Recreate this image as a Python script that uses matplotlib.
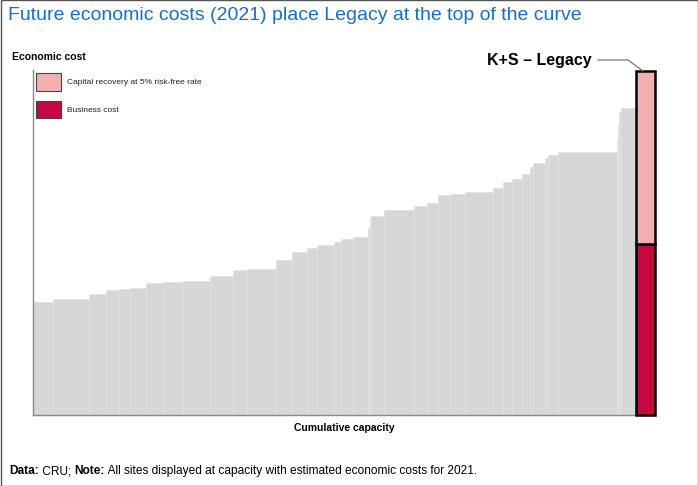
import matplotlib
matplotlib.use("Agg")
import matplotlib.pyplot as plt
from matplotlib.patches import Rectangle
import numpy as np

plt.rcParams['font.family'] = ['Liberation Sans', 'DejaVu Sans']

# ---- data (arbitrary units) ----
capacity = [19.7, 36.6, 16.7, 13.3, 10.7, 16.0, 17.3, 20.0, 26.7, 23.3,
            13.2, 29.0, 16.5, 14.7, 10.0, 17.0, 7.1, 12.5, 14.4, 1.8,
            1.5, 13.0, 30.0, 13.3, 11.0, 11.7, 15.0, 28.3, 10.0, 8.4,
            10.6, 7.7, 3.3, 11.7, 3.3, 10.0, 58.4, 1.3, 1.5, 1.2, 15.3]
cost = [113.3, 115.7, 121.0, 124.7, 126.3, 127.0, 132.0, 133.3, 134.0, 139.0,
        145.0, 146.0, 155.0, 162.7, 166.7, 170.0, 172.7, 175.7, 177.7, 187.0,
        197.0, 199.3, 205.0, 209.0, 211.7, 220.0, 221.0, 223.3, 227.3, 232.7,
        235.7, 241.0, 247.7, 252.3, 256.7, 259.7, 262.7, 275.0, 290.0, 303.0,
        306.7]
legacy_capacity = 19.0
legacy_business = 171.0
legacy_capital = 173.0

W, H = 698, 486
fig = plt.figure(figsize=(W / 100, H / 100), dpi=100)

def fx(px):
    return px / W

def fy(py):
    return 1 - py / H

ax = fig.add_axes([fx(33), fy(415), fx(655) - fx(33), fy(70) - fy(415)])

cap = np.array(capacity)
left = np.concatenate([[0], np.cumsum(cap)[:-1]])
ax.bar(left, cost, width=cap, align='edge', color='#D5D6D8',
       edgecolor='#E1E2E4', linewidth=0.5)

lx = cap.sum()
ax.bar([lx], [legacy_business], width=legacy_capacity, align='edge',
       color='#C40A3E', edgecolor='black', linewidth=1.8, clip_on=False, zorder=3)
ax.bar([lx], [legacy_capital], bottom=[legacy_business], width=legacy_capacity,
       align='edge', color='#F2B0B0', edgecolor='black', linewidth=1.8,
       clip_on=False, zorder=3)

ax.set_xlim(0, lx + legacy_capacity)
ax.set_ylim(0, 345)
ax.set_xticks([])
ax.set_yticks([])
for s in ['top', 'right']:
    ax.spines[s].set_visible(False)
for s in ['left', 'bottom']:
    ax.spines[s].set_color('#8A8A8A')
    ax.spines[s].set_linewidth(1.0)

# leader line & label for K+S - Legacy
top = legacy_business + legacy_capital
ax.plot([lx - 38, lx - 8, lx + 7], [top + 11, top + 11, top], color='#777777',
        linewidth=0.9, clip_on=False, zorder=4)
ax.text(lx - 44, top + 11, 'K+S – Legacy', ha='right', va='center',
        fontsize=11.5, fontweight='bold', color='black')

ax.set_xlabel('Cumulative capacity', fontsize=7.5, fontweight='bold', labelpad=6)

# legend (manual)
fig.patches.append(Rectangle((fx(36), fy(91)), fx(61) - fx(36), fy(73) - fy(91),
                             transform=fig.transFigure, facecolor='#F2B0B0',
                             edgecolor='#444444', linewidth=0.8))
fig.patches.append(Rectangle((fx(36), fy(118)), fx(61) - fx(36), fy(101) - fy(118),
                             transform=fig.transFigure, facecolor='#C40A3E',
                             edgecolor='#444444', linewidth=0.8))
fig.text(fx(67), fy(82), 'Capital recovery at 5% risk-free rate', fontsize=6,
         va='center', ha='left', color='#222222')
fig.text(fx(67), fy(110), 'Business cost', fontsize=6, va='center', ha='left',
         color='#222222')

fig.text(fx(12), fy(57), 'Economic cost', fontsize=7.5, fontweight='bold',
         va='center', ha='left')

fig.text(fx(8), fy(15), 'Future economic costs (2021) place Legacy at the top of the curve',
         fontsize=14, color='#1B6FC2', va='center', ha='left')

# footer as chained text pieces
renderer = fig.canvas.get_renderer()
pieces = [('Data:', 'bold'), (' CRU; ', 'normal'), ('Note:', 'bold'),
          (' All sites displayed at capacity with estimated economic costs for 2021.', 'normal')]
xpos = 9.0
for txt, wt in pieces:
    t = fig.text(fx(xpos), fy(474), txt, fontsize=8.6, fontweight=wt,
                 va='baseline', ha='left')
    bb = t.get_window_extent(renderer=renderer)
    xpos += bb.width

fig.patches.append(Rectangle((0.5 / W, 0.5 / H), 1 - 1 / W, 1 - 1 / H,
                             transform=fig.transFigure, facecolor='none',
                             edgecolor='#555555', linewidth=1.0))

fig.savefig('out.png', dpi=100)
